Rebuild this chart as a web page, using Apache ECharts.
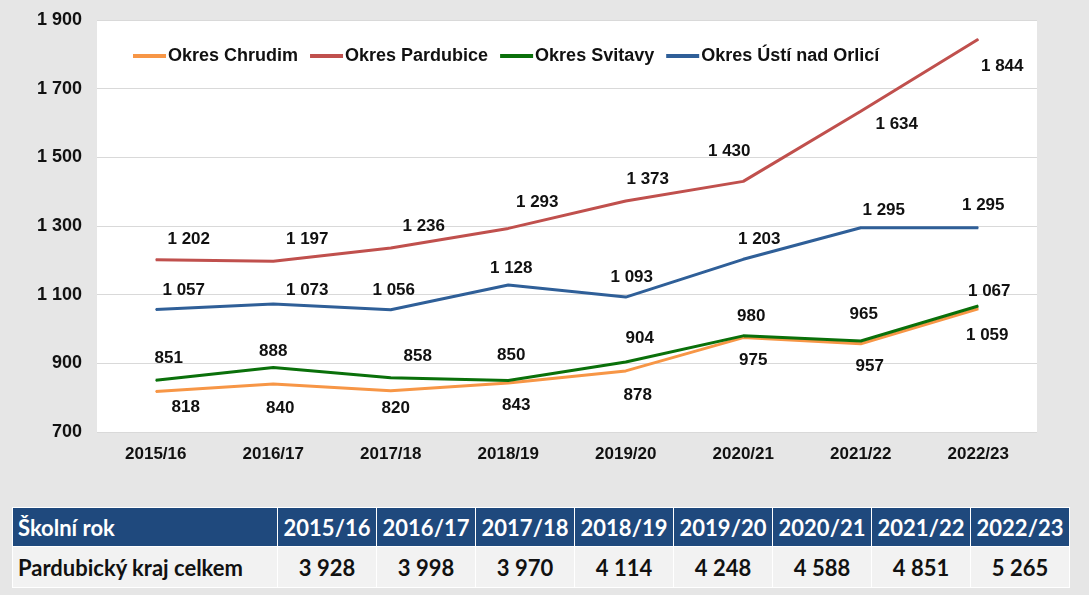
<!DOCTYPE html>
<html>
<head>
<meta charset="utf-8">
<script src="https://cdn.jsdelivr.net/npm/echarts@6/dist/echarts.min.js"></script>
<style>
  html, body { margin: 0; padding: 0; }
  body { width: 1089px; height: 595px; background: #e6e6e6; position: relative; overflow: hidden; }
  #chart { position: absolute; left: 0; top: 0; width: 1089px; height: 480px; }
  #tbl { position: absolute; left: 12px; top: 507px; border-collapse: collapse; font-family: Lato, "Open Sans", sans-serif; font-weight: bold; }
  #tbl td { border: 1px solid #ffffff; padding: 0; text-align: center; font-size: 22px; }
  #tbl tr.head td { background: #1f497d; color: #ffffff; height: 38px; }
  #tbl tr.body td { background: #f2f2f2; color: #111; height: 40px; }
  #tbl td.first { text-align: left; padding-left: 5px; width: 259px; }
  #tbl td.year { width: 98px; }
</style>
</head>
<body>
<div id="chart"></div>
<table id="tbl"></table>
<script>
// skolni roky
const years = ['2015/16', '2016/17', '2017/18', '2018/19', '2019/20', '2020/21', '2021/22', '2022/23'];

const chrudim = [818, 840, 820, 843, 878, 975, 957, 1059];
const pardubice = [1202, 1197, 1236, 1293, 1373, 1430, 1634, 1844];
const svitavy = [851, 888, 858, 850, 904, 980, 965, 1067];
const ustiNadOrlici = [1057, 1073, 1056, 1128, 1093, 1203, 1295, 1295];

// kraj celkem (tabulka pod grafem)
const krajCelkem = [3928, 3998, 3970, 4114, 4248, 4588, 4851, 5265];

const yTicks = [700, 900, 1100, 1300, 1500, 1700, 1900];

function fmt(v) {
    // mezera jako oddelovac tisicu
    return String(v).replace(/\B(?=(\d{3})+(?!\d))/g, ' ');
}

// posuny popisku (jako v excelu), [dx, dy] od bodu
const nudges = {
    chrudim:   [[30, 16], [7, 24], [5, 18], [8, 22], [12, 24], [10, 23], [9, 23], [9, 27]],
    pardubice: [[33, -20], [34, -22], [33, -22], [29, -26], [22, -22], [-14, -30], [36, 13], [24, 27]],
    svitavy:   [[13, -22], [0, -16], [27, -21], [3, -25], [14, -24], [8, -20], [3, -27], [11, -15]],
    usti:      [[28, -19], [34, -14], [3, -19], [3, -17], [6, -20], [16, -20], [23, -17], [5, -22]]
};

const boldArial = '"Liberation Sans", Arial, sans-serif';

function makeSeries(name, values, color, key) {
    return {
        name: name,
        type: 'line',
        data: values.map((v, i) => ({
            value: v,
            label: { offset: nudges[key][i] }
        })),
        symbol: 'circle',
        symbolSize: 1,
        itemStyle: { color: color },
        lineStyle: { color: color, width: 3 },
        label: {
            show: true,
            position: 'inside',
            formatter: p => fmt(p.value),
            color: '#111',
            fontFamily: boldArial,
            fontWeight: 'bold',
            fontSize: 17
        },
        animation: false
    };
}

const chart = echarts.init(document.getElementById('chart'));
chart.setOption({
    backgroundColor: 'transparent',
    animation: false,
    grid: {
        left: 97,
        right: 52,
        top: 20,
        height: 412,
        show: true,
        backgroundColor: '#ffffff',
        borderWidth: 0
    },
    legend: {
        left: 128,
        top: 42,
        icon: 'rect',
        itemWidth: 33,
        itemHeight: 4,
        itemGap: 12,
        textStyle: {
            color: '#111',
            fontFamily: boldArial,
            fontWeight: 'bold',
            fontSize: 18,
            padding: [0, 0, 0, -3]
        },
        data: ['Okres Chrudim', 'Okres Pardubice', 'Okres Svitavy', 'Okres Ústí nad Orlicí']
    },
    xAxis: {
        type: 'category',
        data: years,
        boundaryGap: true,
        axisLine: { show: false },
        axisTick: { show: false },
        axisLabel: {
            margin: 14,
            color: '#111',
            fontFamily: boldArial,
            fontWeight: 'bold',
            fontSize: 17
        }
    },
    yAxis: {
        type: 'value',
        min: yTicks[0],
        max: yTicks[yTicks.length - 1],
        interval: 200,
        axisLine: { show: false },
        axisTick: { show: false },
        splitLine: { lineStyle: { color: '#d9d9d9', width: 1 } },
        axisLabel: {
            margin: 15,
            color: '#111',
            fontFamily: boldArial,
            fontWeight: 'bold',
            fontSize: 18,
            formatter: v => fmt(v)
        }
    },
    series: [
        makeSeries('Okres Chrudim', chrudim, '#f79646', 'chrudim'),
        makeSeries('Okres Pardubice', pardubice, '#c0504d', 'pardubice'),
        makeSeries('Okres Svitavy', svitavy, '#0a700a', 'svitavy'),
        makeSeries('Okres Ústí nad Orlicí', ustiNadOrlici, '#2f5f98', 'usti')
    ]
});

// tabulka
const tbl = document.getElementById('tbl');
let head = '<tr class="head"><td class="first">Školní rok</td>';
years.forEach(y => { head += '<td class="year">' + y + '</td>'; });
head += '</tr>';
let body = '<tr class="body"><td class="first">Pardubický kraj celkem</td>';
krajCelkem.forEach(v => { body += '<td class="year">' + fmt(v) + '</td>'; });
body += '</tr>';
tbl.innerHTML = head + body;
</script>
</body>
</html>
